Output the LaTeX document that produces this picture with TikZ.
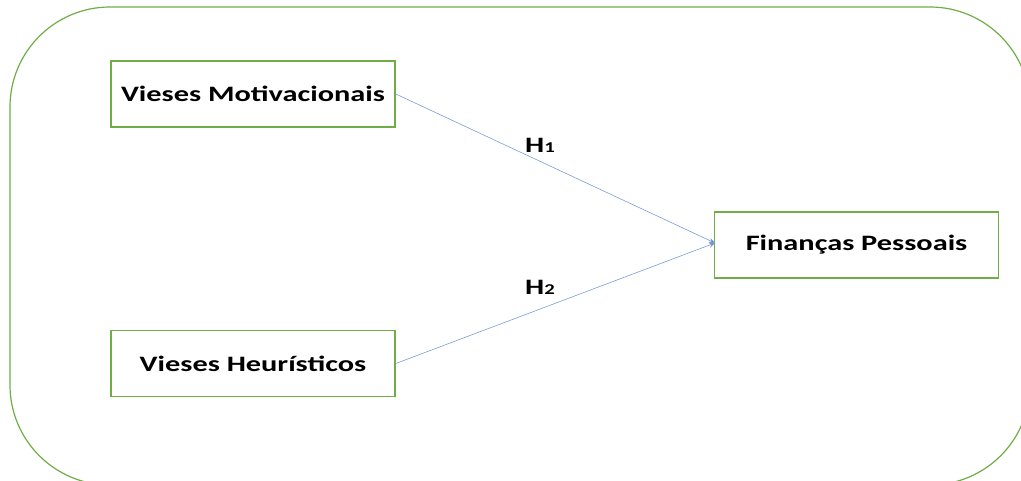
\documentclass[tikz,border=0pt]{standalone}
\usepackage{fontspec}
\setmainfont{Carlito}
\newfontfamily\widefont[FakeStretch=1.38]{Carlito}
\usetikzlibrary{arrows.meta}
\definecolor{boxgreen}{RGB}{112,173,71}
\definecolor{linkblue}{RGB}{68,114,196}
\tikzset{
  varbox/.style={draw=boxgreen, line width=1.6pt, fill=white, minimum width=284pt, minimum height=66pt, inner sep=0pt, font=\widefont\fontsize{22}{26}\selectfont\bfseries},
  link/.style={draw=linkblue!70, line width=0.6pt, -{Stealth[length=6pt,width=5pt,fill=linkblue]}},
  hyp/.style={font=\widefont\fontsize{22}{26}\selectfont\bfseries, inner sep=0pt}
}
\newcommand{\hsub}[1]{{\fontsize{15}{17}\selectfont #1}}
\begin{document}
\begin{tikzpicture}[x=1pt,y=-1pt]
\useasboundingbox (0,0) rectangle (1021,481);
\clip (0,0) rectangle (1021,481);
\draw[boxgreen, line width=1.2pt, rounded corners=100pt] (10,7) rectangle (1030,485);
\node[varbox] (vm) at (253,94) {Vieses Motivacionais};
\node[varbox] (vh) at (253,363.5) {Vieses Heurísticos};
\node[varbox] (fp) at (856.5,245) {Finanças Pessoais};
\coordinate (tip) at (715,243);
\draw[link] (vm.east) -- (tip);
\draw[link] (vh.east) -- (tip);
\node[hyp] (h1) at (540,145) {H\hsub{1}};
\node[hyp] (h2) at (540,287) {H\hsub{2}};
\end{tikzpicture}
\end{document}
